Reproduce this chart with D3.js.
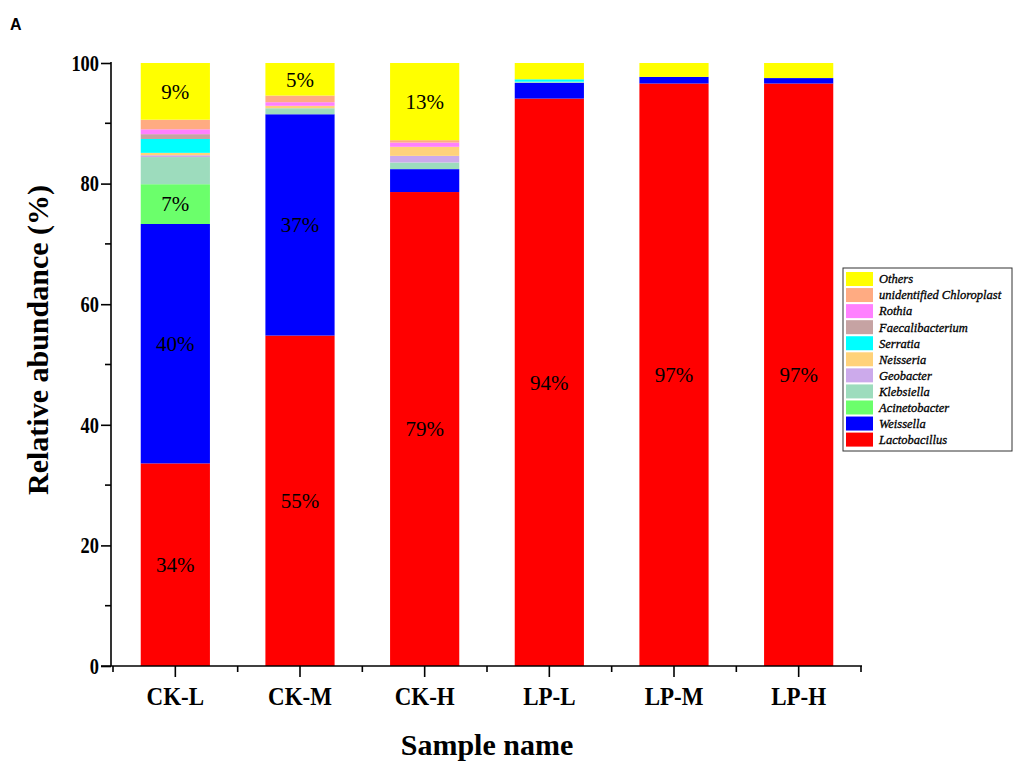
<!DOCTYPE html>
<html>
<head>
<meta charset="utf-8">
<script src="https://cdn.jsdelivr.net/npm/d3@7"></script>
<style>
  html, body { margin: 0; padding: 0; background: #fff; }
  svg { display: block; }
</style>
</head>
<body>
<svg id="chart" width="1014" height="765"></svg>
<script>
// Samples along the x axis
const samples = ["CK-L", "CK-M", "CK-H", "LP-L", "LP-M", "LP-H"];

// Genera, stacked bottom to top
const genera = ["Lactobacillus", "Weissella", "Acinetobacter", "Klebsiella", "Geobacter",
  "Neisseria", "Serratia", "Faecalibacterium", "Rothia", "unidentified Chloroplast", "Others"];
const generaColors = ["#ff0000", "#0000ff", "#6bff6b", "#9ddcbd", "#ccaaeb",
  "#ffd27a", "#00ffff", "#c6a3a3", "#ff80ff", "#ffab82", "#ffff00"];

// Relative abundance (%) per genus, one value per sample
const lactobacillus    = [33.6, 54.8, 78.6, 94.1, 96.6, 96.6];
const weissella        = [39.7, 36.7,  3.8,  2.6,  1.1,  0.9];
const acinetobacter    = [ 6.6,  0.0,  0.0,  0.0,  0.0,  0.0];
const klebsiella       = [ 4.5,  1.0,  1.1,  0.2,  0.0,  0.0];
const geobacter        = [ 0.3,  0.0,  1.1,  0.0,  0.0,  0.0];
const neisseria        = [ 0.4,  0.4,  1.5,  0.0,  0.0,  0.0];
const serratia         = [ 2.3,  0.0,  0.0,  0.4,  0.0,  0.0];
const faecalibacterium = [ 0.8,  0.0,  0.0,  0.0,  0.0,  0.0];
const rothia           = [ 0.8,  0.6,  0.7,  0.0,  0.0,  0.0];
const chloroplast      = [ 1.6,  1.1,  0.4,  0.0,  0.0,  0.0];
const others           = [ 9.4,  5.4, 12.8,  2.7,  2.3,  2.5];

const yTicks = [0, 20, 40, 60, 80, 100];
const yMinorTicks = [10, 30, 50, 70, 90];

const series = [lactobacillus, weissella, acinetobacter, klebsiella, geobacter,
  neisseria, serratia, faecalibacterium, rothia, chloroplast, others];

// Build one row per sample for d3.stack
const rows = samples.map((s, i) => {
  const r = { sample: s };
  genera.forEach((g, j) => { r[g] = series[j][i]; });
  return r;
});

const svg = d3.select("#chart");
const serif = "'Liberation Serif', 'Times New Roman', serif";

const x0 = 113, x1 = 861, yTop = 63, yBottom = 666, axisX = 111;

const xAxisScale = d3.scaleBand().domain(samples).range([x0, x1]);
const xBar = d3.scaleBand().domain(samples).range([x0, x1])
  .paddingInner(0.445).paddingOuter(0.2225);
const y = d3.scaleLinear().domain([0, 100]).range([yBottom, yTop]);
const color = d3.scaleOrdinal().domain(genera).range(generaColors);

const stacked = d3.stack().keys(genera)(rows);

// Bars
const layers = svg.append("g").selectAll("g")
  .data(stacked).join("g")
  .attr("fill", d => color(d.key));

layers.selectAll("rect")
  .data(d => d.map(p => ({ key: d.key, p })))
  .join("rect")
  .attr("x", d => xBar(d.p.data.sample))
  .attr("width", xBar.bandwidth())
  .attr("y", d => y(d.p[1]))
  .attr("height", d => Math.max(0, y(d.p[0]) - y(d.p[1])));

// Percentage labels on the larger segments
const labelData = [];
stacked.forEach(layer => {
  layer.forEach(p => {
    const v = p[1] - p[0];
    if (v >= 5) labelData.push({ sample: p.data.sample, v, mid: (p[0] + p[1]) / 2 });
  });
});
svg.append("g").selectAll("text")
  .data(labelData).join("text")
  .attr("x", d => xBar(d.sample) + xBar.bandwidth() / 2)
  .attr("y", d => y(d.mid))
  .attr("dy", "0.35em")
  .attr("text-anchor", "middle")
  .attr("font-family", serif)
  .attr("font-size", 21)
  .attr("fill", "#000")
  .text(d => Math.round(d.v) + "%");

// Y axis
const yAxis = d3.axisLeft(y).tickValues(yTicks).tickSize(10).tickPadding(4);
const gy = svg.append("g").attr("transform", `translate(${axisX},0)`).call(yAxis);
gy.select(".domain").attr("d", `M0,${yTop - 1}V${yBottom}`).attr("stroke", "#000").attr("stroke-width", 1.6);
gy.selectAll(".tick line").attr("stroke", "#000").attr("stroke-width", 1.6);
const ySx = 0.8;
gy.selectAll(".tick text")
  .attr("font-family", serif).attr("font-weight", "bold").attr("font-size", 23).attr("fill", "#000")
  .attr("x", -12 / ySx)
  .attr("transform", `scale(${ySx},1)`);
gy.append("g").selectAll("line").data(yMinorTicks).join("line")
  .attr("x1", -6).attr("x2", 0)
  .attr("y1", d => y(d)).attr("y2", d => y(d))
  .attr("stroke", "#000").attr("stroke-width", 1.6);

// X axis
const xAxis = d3.axisBottom(xAxisScale).tickSize(11).tickPadding(10);
const gx = svg.append("g").attr("transform", `translate(0,${yBottom})`).call(xAxis);
gx.select(".domain").attr("d", `M${axisX - 10},0H${x1 + 1}`).attr("stroke", "#000").attr("stroke-width", 1.6);
gx.selectAll(".tick line").attr("stroke", "#000").attr("stroke-width", 1.6);
gx.selectAll(".tick text")
  .attr("font-family", serif).attr("font-weight", "bold").attr("font-size", 25).attr("fill", "#000")
  .attr("transform", "scale(0.92,1)");
const bounds = samples.map(s => xAxisScale(s)).concat([x1]);
gx.append("g").selectAll("line").data(bounds).join("line")
  .attr("x1", d => d).attr("x2", d => d)
  .attr("y1", 0).attr("y2", 6)
  .attr("stroke", "#000").attr("stroke-width", 1.6);

// Axis titles
svg.append("text")
  .attr("transform", `translate(37,340) rotate(-90)`)
  .attr("text-anchor", "middle")
  .attr("dy", "0.35em")
  .attr("font-family", serif).attr("font-weight", "bold").attr("font-size", 30)
  .text("Relative abundance (%)");

svg.append("text")
  .attr("x", (x0 + x1) / 2).attr("y", 755)
  .attr("text-anchor", "middle")
  .attr("font-family", serif).attr("font-weight", "bold").attr("font-size", 30)
  .text("Sample name");

// Panel letter
svg.append("text")
  .attr("x", 10).attr("y", 30)
  .attr("font-family", "'Liberation Sans', Arial, sans-serif")
  .attr("font-weight", "bold").attr("font-size", 16)
  .text("A");

// Legend, top entry is the last stacked genus
const legend = svg.append("g").attr("transform", "translate(843,268)");
legend.append("rect")
  .attr("width", 169).attr("height", 183)
  .attr("fill", "#fff").attr("stroke", "#333").attr("stroke-width", 1);
const legendItems = genera.slice().reverse();
const li = legend.selectAll("g.item").data(legendItems).join("g")
  .attr("class", "item")
  .attr("transform", (d, i) => `translate(3,${4 + i * 16.06})`);
li.append("rect")
  .attr("width", 27).attr("height", 14)
  .attr("fill", d => color(d));
li.append("text")
  .attr("x", 33).attr("y", 7).attr("dy", "0.35em")
  .attr("font-family", serif).attr("font-style", "italic").attr("font-size", 12.5)
  .attr("fill", "#000").attr("stroke", "#000").attr("stroke-width", 0.3)
  .text(d => d);
</script>
</body>
</html>
